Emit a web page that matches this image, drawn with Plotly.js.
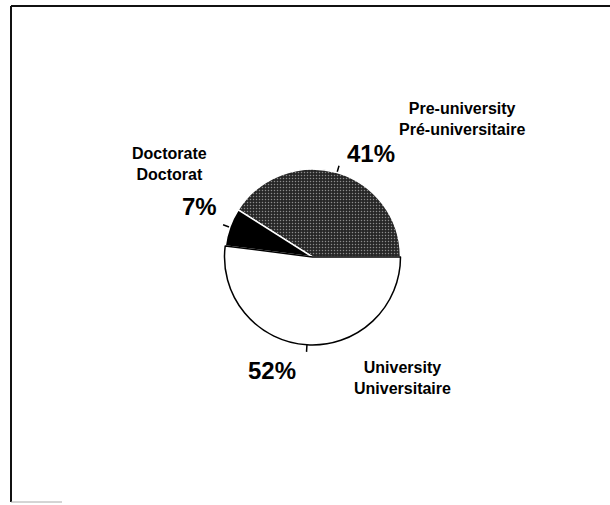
<!DOCTYPE html>
<html>
<head>
<meta charset="utf-8">
<script src="https://cdn.plot.ly/plotly-3.0.1.min.js"></script>
<style>
html,body{margin:0;padding:0;background:#fff;}
#chart{width:610px;height:505px;}
</style>
</head>
<body>
<div id="chart"></div>
<script>
// ---- data ----
const labelsEn = ['Pre-university', 'Doctorate', 'University'];
const labelsFr = ['Pré-universitaire', 'Doctorat', 'Universitaire'];
const values = [41, 7, 52];

// ---- styles / layout helpers ----
const sliceColors = ['#262626', '#000000', '#ffffff'];
const specks = ['#8c8c8c', '#000000', '#ffffff'];
const sliceLines = ['#ffffff', '#ffffff', '#000000'];
const W = 610, H = 505;
const px = x => x / W;
const py = y => 1 - y / H;

// pie geometry (pixels)
const cx = 312.5, cy = 257, R = 88, RQ = 100;

// label positions (pixels): [nameX, nameY, pctX, pctY]
const labelPos = [
  [462, 119, 371, 153],
  [169, 164, 200, 207],
  [402, 378, 272, 370]
];

const total = values.reduce((a, b) => a + b, 0);
// Plotly puts the boundary between slice 1 and slice 2 at `rotation` when counterclockwise;
// the first slice must start at 3 o'clock.
const pieRotation = 90 - 360 * values[0] / total;

const pie = {
  type: 'pie',
  labels: labelsEn,
  values: values,
  sort: false,
  direction: 'counterclockwise',
  rotation: pieRotation,
  textinfo: 'none',
  hoverinfo: 'label+percent',
  showlegend: false,
  domain: {x: [px(cx - R), px(cx + R)], y: [py(cy + R), py(cy - R)]},
  marker: {
    colors: sliceColors,
    line: {color: sliceLines, width: 1.5},
    pattern: {shape: ['.', '', ''], bgcolor: sliceColors, fgcolor: specks, size: 3, solidity: 0.2}
  }
};

// small leader ticks at each slice's middle angle, on a polar axis matched to the pie
const tickR = [], tickT = [];
let cum = 0;
values.forEach(v => {
  const mid = 360 * (cum + v / 2) / total;
  tickR.push(1.0, 1.08, null);
  tickT.push(mid, mid, null);
  cum += v;
});
const ticks = {
  type: 'scatterpolar',
  r: tickR,
  theta: tickT,
  mode: 'lines',
  line: {color: '#000', width: 1.5},
  hoverinfo: 'skip',
  showlegend: false,
  connectgaps: false
};

const annotations = [];
labelsEn.forEach((lab, i) => {
  const p = labelPos[i];
  annotations.push({xref: 'paper', yref: 'paper', x: px(p[0]), y: py(p[1]),
    text: lab + '<br>' + labelsFr[i], showarrow: false, xanchor: 'center', yanchor: 'middle', align: 'center',
    font: {family: 'Liberation Sans, Arial, sans-serif', size: 16, color: '#000', weight: 'bold'}});
  annotations.push({xref: 'paper', yref: 'paper', x: px(p[2]), y: py(p[3]), text: values[i] + '%', showarrow: false, xanchor: 'center', yanchor: 'middle',
    font: {family: 'Liberation Sans, Arial, sans-serif', size: 24, color: '#000', weight: 'bold'}});
});

const layout = {
  width: W, height: H,
  margin: {l: 0, r: 0, t: 0, b: 0},
  paper_bgcolor: '#fff',
  plot_bgcolor: '#fff',
  showlegend: false,
  polar: {
    domain: {x: [px(cx - RQ), px(cx + RQ)], y: [py(cy + RQ), py(cy - RQ)]},
    bgcolor: 'rgba(0,0,0,0)',
    radialaxis: {visible: false, range: [0, RQ / R]},
    angularaxis: {visible: false, rotation: 0, direction: 'counterclockwise'}
  },
  annotations: annotations,
  shapes: [
    {type: 'line', xref: 'paper', yref: 'paper', x0: px(11), x1: px(11), y0: py(6), y1: py(502), line: {color: '#111', width: 2}},
    {type: 'line', xref: 'paper', yref: 'paper', x0: px(11), x1: 1, y0: py(6), y1: py(6), line: {color: '#111', width: 2}},
    {type: 'line', xref: 'paper', yref: 'paper', x0: px(11), x1: px(62), y0: py(502), y1: py(502), line: {color: '#aaa', width: 1}}
  ]
};

Plotly.newPlot('chart', [pie, ticks], layout, {staticPlot: true});
</script>
</body>
</html>
